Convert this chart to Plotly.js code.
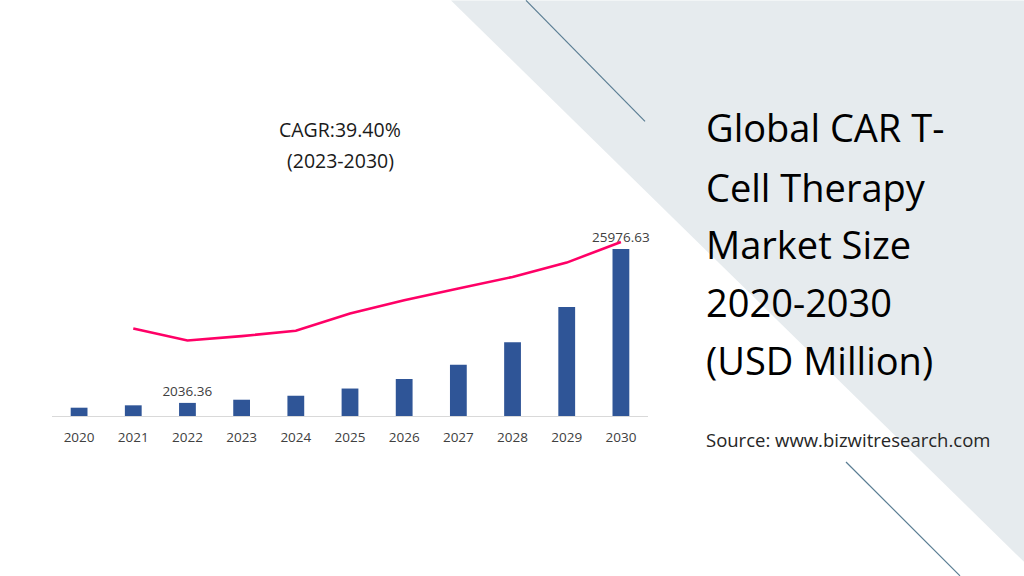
<!DOCTYPE html>
<html>
<head>
<meta charset="utf-8">
<script src="https://cdn.plot.ly/plotly-3.0.1.min.js"></script>
<style>html,body{margin:0;padding:0;background:#fff;}#chart{width:1024px;height:576px;}</style>
</head>
<body>
<div id="chart"></div>
<script>
// ---- data ----
const years = ['2020','2021','2022','2023','2024','2025','2026','2027','2028','2029','2030'];
const marketSize = [1290, 1660, 2036.36, 2530, 3150, 4270, 5750, 7970, 11450, 16930, 25976.63];
const lineYears = ['2021','2022','2023','2024','2025','2026','2027','2028','2029','2030'];
const growthLine = [26.3, 22.7, 24.0, 25.6, 30.8, 34.8, 38.3, 41.8, 46.1, 52.3];
const labelledYears = ['2022','2030'];
const titleLines = ['Global CAR T-', 'Cell Therapy', 'Market Size', '2020-2030', '(USD Million)'];
const cagrLines = ['CAGR:39.40%', '(2023-2030)'];
const sourceText = 'Source: www.bizwitresearch.com';

// ---- layout geometry (pixels) ----
const W = 1024, H = 576;
const plotL = 52, plotR = 648, plotB = 416, plotT = 222.8;
const px = x => (x - plotL) / (plotR - plotL);
const py = y => (plotB - y) / (plotB - plotT);
const FONT = '"Open Sans", "Noto Sans", sans-serif';

const barText = years.map((y, i) => labelledYears.includes(y) ? marketSize[i].toFixed(2) : '');

const traces = [
  {
    type: 'bar', x: years, y: marketSize,
    marker: {color: '#2F5597'},
    text: barText, textposition: 'outside', constraintext: 'none', cliponaxis: false,
    textfont: {family: FONT, size: 13.5, color: '#404040'},
    hoverinfo: 'x+y', showlegend: false
  },
  {
    type: 'scatter', mode: 'lines', x: lineYears, y: growthLine, yaxis: 'y2',
    line: {color: '#FF0066', width: 2.6},
    showlegend: false, cliponaxis: false
  }
];

const annotations = [];
const titleY = [127, 187, 244, 302, 360];
titleLines.forEach((t, i) => annotations.push({
  xref: 'paper', yref: 'paper', x: px(704), y: py(titleY[i]), xanchor: 'left', yanchor: 'middle',
  text: t, showarrow: false, font: {family: FONT, size: 38, color: '#000000'}
}));
const cagrY = [129, 160];
cagrLines.forEach((t, i) => annotations.push({
  xref: 'paper', yref: 'paper', x: px(340), y: py(cagrY[i]), xanchor: 'center', yanchor: 'middle',
  text: t, showarrow: false, font: {family: FONT, size: 19.5, color: '#1a1a1a'}
}));
annotations.push({
  xref: 'paper', yref: 'paper', x: px(704), y: py(440), xanchor: 'left', yanchor: 'middle',
  text: sourceText, showarrow: false, font: {family: FONT, size: 18.5, color: '#262626'}
});

const poly = [[451,0],[1024,0],[1024,562]];
const path = poly.map((p, i) => (i ? 'L' : 'M') + px(p[0]) + ',' + py(p[1])).join(' ') + ' Z';

const shapes = [
  {type: 'path', xref: 'paper', yref: 'paper', path: path, fillcolor: '#E6EBEE', line: {width: 0}, layer: 'below'},
  {type: 'line', xref: 'paper', yref: 'paper', x0: px(526), y0: py(0), x1: px(645), y1: py(121), line: {color: '#5A7D93', width: 1.2}, layer: 'below'},
  {type: 'line', xref: 'paper', yref: 'paper', x0: px(846), y0: py(462), x1: px(960), y1: py(576), line: {color: '#5A7D93', width: 1.2}, layer: 'below'}
];

const layout = {
  width: W, height: H,
  margin: {l: plotL, r: W - plotR, t: plotT, b: H - plotB, pad: 0},
  paper_bgcolor: '#ffffff', plot_bgcolor: 'rgba(0,0,0,0)',
  bargap: 0.69,
  xaxis: {
    type: 'category', showline: true, linecolor: '#D9D9D9', linewidth: 1,
    showgrid: false, zeroline: false, ticks: '', ticklabelstandoff: 9,
    tickfont: {family: FONT, size: 13.5, color: '#404040'}, fixedrange: true
  },
  yaxis: {range: [0, 30000], visible: false, showgrid: false, zeroline: false, fixedrange: true},
  yaxis2: {range: [0, 58], overlaying: 'y', visible: false, showgrid: false, zeroline: false, fixedrange: true},
  shapes: shapes,
  annotations: annotations,
  showlegend: false
};

Plotly.newPlot('chart', traces, layout, {displayModeBar: false, staticPlot: true});
</script>
</body>
</html>
